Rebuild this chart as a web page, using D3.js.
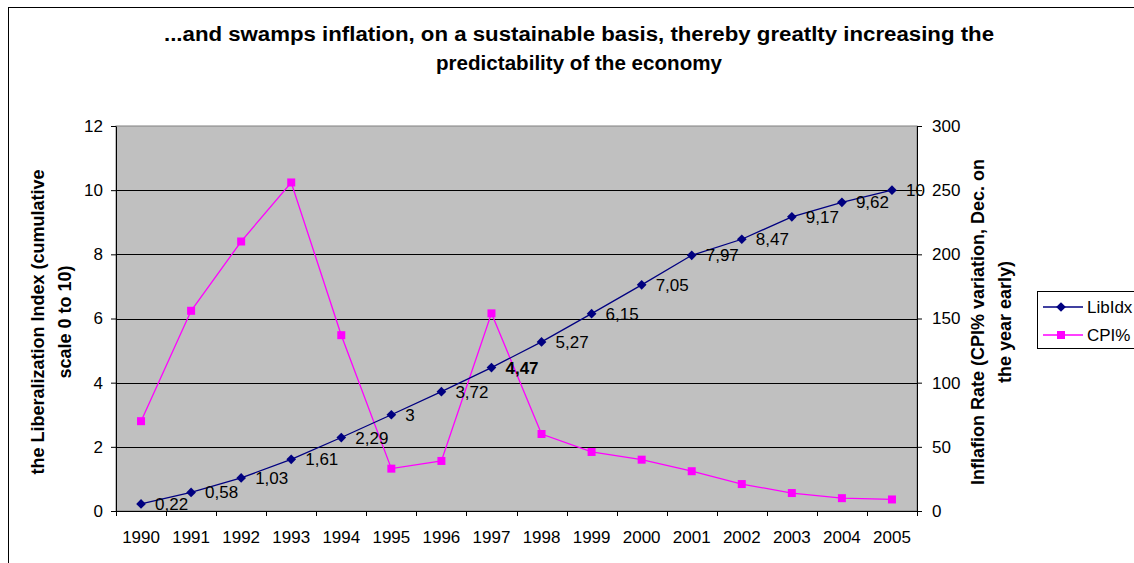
<!DOCTYPE html>
<html>
<head>
<meta charset="utf-8">
<script src="https://d3js.org/d3.v7.min.js"></script>
<style>
  body { margin: 0; background: #fff; }
  svg text { font-family: "Liberation Sans", Arial, sans-serif; }
</style>
</head>
<body>
<svg id="chart" width="1134" height="563"></svg>
<script>
var years = ["1990","1991","1992","1993","1994","1995","1996","1997","1998","1999","2000","2001","2002","2003","2004","2005"];
var libIdx = [0.22, 0.58, 1.03, 1.61, 2.29, 3, 3.72, 4.47, 5.27, 6.15, 7.05, 7.97, 8.47, 9.17, 9.62, 10];
var cpi = [70, 156, 210, 256, 137, 33, 39, 154, 60, 46, 40, 31, 21, 14, 10, 9];
var leftTicks = [0, 2, 4, 6, 8, 10, 12];
var rightTicks = [0, 50, 100, 150, 200, 250, 300];
var titleLines = ["...and swamps inflation, on a sustainable basis, thereby greatlty increasing the",
                  "predictability of the economy"];
var leftTitle = ["the Liberalization Index (cumulative", "scale 0 to 10)"];
var rightTitle = ["Inflafion Rate (CPI% variation, Dec. on", "the year early)"];

var svg = d3.select("#chart");

// outer chart frame (runs off the right and bottom edges)
svg.append("rect")
  .attr("x", 8.5).attr("y", 7.5)
  .attr("width", 1200).attr("height", 600)
  .attr("fill", "#fff").attr("stroke", "#000");

var plot = { left: 116, right: 917, top: 126, bottom: 511 };
var fs = 17;

var x = d3.scaleBand()
  .domain(years)
  .range([plot.left, plot.right]);

var yLeft = d3.scaleLinear().domain([0, 12]).range([plot.bottom, plot.top]);
var yRight = d3.scaleLinear().domain([0, 300]).range([plot.bottom, plot.top]);

// plot area
svg.append("rect")
  .attr("x", plot.left).attr("y", plot.top)
  .attr("width", plot.right - plot.left).attr("height", plot.bottom - plot.top)
  .attr("fill", "#c0c0c0").attr("stroke", "#808080");

// gridlines
svg.append("g")
  .selectAll("line")
  .data(leftTicks.filter(d => d > 0 && d < 12))
  .enter().append("line")
  .attr("x1", plot.left).attr("x2", plot.right)
  .attr("y1", d => Math.round(yLeft(d)) + 0.5)
  .attr("y2", d => Math.round(yLeft(d)) + 0.5)
  .attr("stroke", "#000");

// axes
var xAxis = d3.axisBottom(x).tickSize(0).tickPadding(20);
var gx = svg.append("g")
  .attr("transform", "translate(0," + plot.bottom + ")")
  .call(xAxis);
gx.select(".domain").attr("stroke", "#000");
gx.selectAll("text").attr("font-size", fs).attr("fill", "#000");
// tick marks at band edges
gx.selectAll("line.edge")
  .data(years.concat(["end"]))
  .enter().append("line")
  .attr("class", "edge")
  .attr("x1", (d, i) => Math.round(plot.left + i * x.bandwidth()) + 0.5)
  .attr("x2", (d, i) => Math.round(plot.left + i * x.bandwidth()) + 0.5)
  .attr("y1", 0).attr("y2", 5)
  .attr("stroke", "#000");

var gl = svg.append("g")
  .attr("transform", "translate(" + plot.left + ",0)")
  .call(d3.axisLeft(yLeft).tickValues(leftTicks).tickSize(5).tickPadding(8).tickSizeOuter(0));
gl.select(".domain").attr("stroke", "#000");
gl.selectAll("text").attr("font-size", fs).attr("fill", "#000");

var gr = svg.append("g")
  .attr("transform", "translate(" + plot.right + ",0)")
  .call(d3.axisRight(yRight).tickValues(rightTicks).tickSize(5).tickPadding(10).tickSizeOuter(0));
gr.select(".domain").attr("stroke", "#000");
gr.selectAll("text").attr("font-size", fs).attr("fill", "#000");

// title
svg.append("g").selectAll("text")
  .data(titleLines)
  .enter().append("text")
  .attr("x", 579)
  .attr("y", (d, i) => 41 + i * 29)
  .attr("text-anchor", "middle")
  .attr("font-size", 20)
  .attr("font-weight", "bold")
  .attr("textLength", (d, i) => i == 0 ? 830 : 286)
  .attr("lengthAdjust", "spacingAndGlyphs")
  .text(d => d);

// axis titles
svg.append("g")
  .attr("transform", "translate(44,322) rotate(-90)")
  .selectAll("text")
  .data(leftTitle)
  .enter().append("text")
  .attr("x", 0).attr("y", (d, i) => i * 27)
  .attr("text-anchor", "middle")
  .attr("font-size", 18).attr("font-weight", "bold")
  .text(d => d);

svg.append("g")
  .attr("transform", "translate(984,322) rotate(-90)")
  .selectAll("text")
  .data(rightTitle)
  .enter().append("text")
  .attr("x", 0).attr("y", (d, i) => i * 27)
  .attr("text-anchor", "middle")
  .attr("font-size", 18).attr("font-weight", "bold")
  .text(d => d);

var cx = d => x(d) + x.bandwidth() / 2;

// CPI% series
svg.append("path")
  .datum(cpi)
  .attr("fill", "none")
  .attr("stroke", "#ff00ff")
  .attr("stroke-width", 1.3)
  .attr("d", d3.line().x((d, i) => cx(years[i])).y(d => yRight(d)));

svg.append("g").selectAll("rect")
  .data(cpi)
  .enter().append("rect")
  .attr("x", (d, i) => cx(years[i]) - 4)
  .attr("y", d => yRight(d) - 4)
  .attr("width", 8).attr("height", 8)
  .attr("fill", "#ff00ff");

// LibIdx series
svg.append("path")
  .datum(libIdx)
  .attr("fill", "none")
  .attr("stroke", "#000080")
  .attr("stroke-width", 1.3)
  .attr("d", d3.line().x((d, i) => cx(years[i])).y(d => yLeft(d)));

var diamond = d3.symbol().type(d3.symbolDiamond2).size(60);
svg.append("g").selectAll("path")
  .data(libIdx)
  .enter().append("path")
  .attr("transform", (d, i) => "translate(" + cx(years[i]) + "," + yLeft(d) + ")")
  .attr("d", diamond)
  .attr("fill", "#000080");

svg.append("g").selectAll("text")
  .data(libIdx)
  .enter().append("text")
  .attr("x", (d, i) => cx(years[i]) + 14)
  .attr("y", d => yLeft(d) + 6)
  .attr("font-size", fs)
  .attr("font-weight", (d, i) => years[i] == "1997" ? "bold" : "normal")
  .text(d => String(d).replace(".", ","));

// legend
var legend = svg.append("g").attr("transform", "translate(1037,291)");
legend.append("rect")
  .attr("x", 0.5).attr("y", 0.5)
  .attr("width", 120).attr("height", 57)
  .attr("fill", "#fff").attr("stroke", "#000");
var items = [
  { name: "LibIdx", color: "#000080", shape: "diamond" },
  { name: "CPI%", color: "#ff00ff", shape: "square" }
];
var li = legend.selectAll("g.item")
  .data(items)
  .enter().append("g")
  .attr("class", "item")
  .attr("transform", (d, i) => "translate(0," + (16 + i * 28) + ")");
li.append("line")
  .attr("x1", 6).attr("x2", 46)
  .attr("stroke", d => d.color).attr("stroke-width", 1.3);
li.append("path")
  .attr("transform", "translate(24,0)")
  .attr("d", d => d.shape == "diamond" ? diamond() : "M-4,-4H4V4H-4Z")
  .attr("fill", d => d.color);
li.append("text")
  .attr("x", 50).attr("y", 6)
  .attr("font-size", fs)
  .text(d => d.name);
</script>
</body>
</html>
